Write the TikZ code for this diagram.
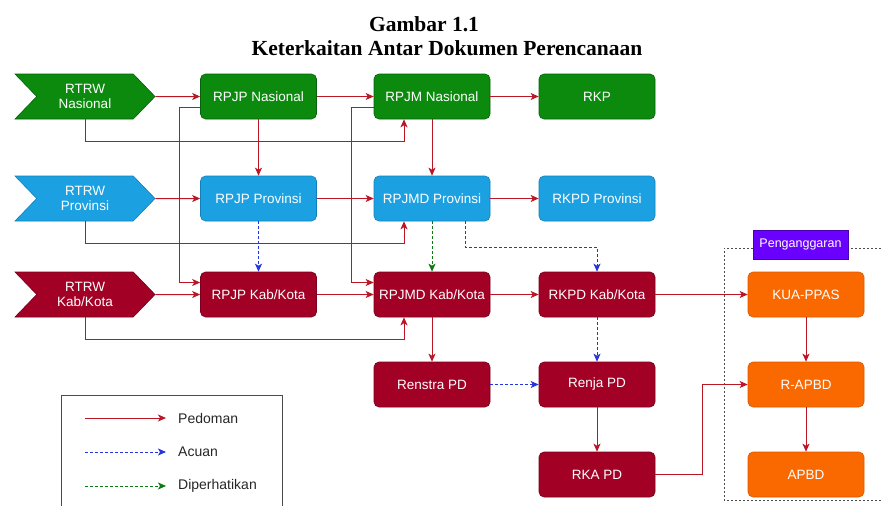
\documentclass[tikz,border=0pt]{standalone}
\usepackage{fontspec}
\setmainfont{Liberation Serif}
\setsansfont{Liberation Sans}
\usetikzlibrary{shapes.symbols,arrows.meta}

\definecolor{hijau}{HTML}{0B8A0E}
\definecolor{hijaugelap}{HTML}{06620A}
\definecolor{biru}{HTML}{1BA1E2}
\definecolor{birugelap}{HTML}{1480B8}
\definecolor{merahtua}{HTML}{A20025}
\definecolor{merahgelap}{HTML}{7A001B}
\definecolor{oranye}{HTML}{FA6800}
\definecolor{oranyegelap}{HTML}{D85A00}
\definecolor{ungu}{HTML}{6A00FF}
\definecolor{garismerah}{HTML}{BA1626}
\definecolor{garisbiru}{HTML}{2434E0}
\definecolor{garishijau}{HTML}{0C7A14}

\tikzset{
	kotak/.style={rectangle, rounded corners=5pt, minimum width=116pt,
	minimum height=45pt, inner sep=0pt, align=center, text=white,
	line width=0.6pt, font=\sffamily\fontsize{13.5}{15}\selectfont},
	rtrw/.style={kotak, signal, signal from=west, signal to=east,
	signal pointer angle=92, sharp corners, minimum width=140pt},
	nas/.style={fill=hijau, draw=hijaugelap},
	prov/.style={fill=biru, draw=birugelap},
	kab/.style={fill=merahtua, draw=merahgelap},
	angg/.style={fill=oranye, draw=oranyegelap},
	pedoman/.style={draw=garismerah, line width=1pt,
	-{Stealth[length=8pt, width=7pt, inset=2pt]}},
	acuan/.style={draw=garisbiru, line width=1pt, dash pattern=on 3pt off 2pt,
	-{Stealth[length=8pt, width=7pt, inset=2pt]}},
	diperhatikan/.style={acuan, draw=garishijau},
	legenda/.style={anchor=west, inner sep=0pt, text=black!85,
	font=\sffamily\fontsize{14}{16}\selectfont}
}

\begin{document}
\begin{tikzpicture}[x=1pt, y=-1pt]
	\useasboundingbox (0,0) rectangle (881,506);
	% Judul
	\node[anchor=base] (judul1) at (424,31)
	{\fontsize{21.5}{24}\selectfont\bfseries Gambar 1.1};
	\node[anchor=base] (judul2) at (447,55)
	{\fontsize{21.5}{24}\selectfont\bfseries Keterkaitan Antar Dokumen Perencanaan};

	% Bingkai penganggaran
	\draw[black!70, line width=1pt, dash pattern=on 2pt off 2pt]
	(881,248) -- (724,248) -- (724,500) -- (881,500);
	\node[kotak, rounded corners=0pt, fill=ungu, draw=ungu!70!black,
	minimum width=95pt, minimum height=29pt,
	font=\sffamily\fontsize{12.5}{14}\selectfont] (penganggaran) at (800.5,244.5)
	{Penganggaran};

	% Nasional
	\node[rtrw, nas] (rtrwnas) at (85,96.5) {RTRW\\Nasional};
	\node[kotak, nas] (rpjpnas) at (258.5,96.5) {RPJP Nasional};
	\node[kotak, nas] (rpjmnas) at (432,96.5) {RPJM Nasional};
	\node[kotak, nas] (rkp) at (597,96.5) {RKP};

	% Provinsi
	\node[rtrw, prov] (rtrwprov) at (85,198.5) {RTRW\\Provinsi};
	\node[kotak, prov] (rpjpprov) at (258.5,198.5) {RPJP Provinsi};
	\node[kotak, prov] (rpjmdprov) at (432,198.5) {RPJMD Provinsi};
	\node[kotak, prov] (rkpdprov) at (597,198.5) {RKPD Provinsi};

	% Kab/Kota
	\node[rtrw, kab] (rtrwkab) at (85,294.5) {RTRW\\Kab/Kota};
	\node[kotak, kab] (rpjpkab) at (258.5,294.5) {RPJP Kab/Kota};
	\node[kotak, kab] (rpjmdkab) at (432,294.5) {RPJMD Kab/Kota};
	\node[kotak, kab] (rkpdkab) at (597,294.5) {RKPD Kab/Kota};
	\node[kotak, kab] (renstra) at (432,384.5) {Renstra PD};
	\node[kotak, kab] (renja) at (597,384.5) {Renja PD};
	\node[kotak, kab] (rkapd) at (597,474.5) {RKA PD};

	% Anggaran
	\node[kotak, angg] (kuappas) at (806,294.5) {KUA-PPAS};
	\node[kotak, angg] (rapbd) at (806,384.5) {R-APBD};
	\node[kotak, angg] (apbd) at (806,474.5) {APBD};

	% Pedoman mendatar dan menurun
	\foreach \a/\b in {rtrwnas/rpjpnas, rpjpnas/rpjmnas, rpjmnas/rkp,
		rtrwprov/rpjpprov, rpjpprov/rpjmdprov, rpjmdprov/rkpdprov,
		rtrwkab/rpjpkab, rpjpkab/rpjmdkab, rpjmdkab/rkpdkab, rkpdkab/kuappas,
		rpjpnas/rpjpprov, rpjmnas/rpjmdprov, rpjmdkab/renstra, renja/rkapd,
		kuappas/rapbd, rapbd/apbd}
		\draw[pedoman] (\a) -- (\b);
	% RTRW ke RPJM(D)
	\foreach \a/\b/\y in {rtrwnas/rpjmnas/141, rtrwprov/rpjmdprov/243,
		rtrwkab/rpjmdkab/339}
		\draw[pedoman] (\a.south) -- (\a.south |- 0,\y)
		-| ([xshift=-28pt]\b.south);
	\draw[pedoman] ([yshift=-11pt]rpjpnas.west) -- ++(-21,0)
	|- ([yshift=12pt]rpjpkab.west);
	\draw[pedoman] ([yshift=-11pt]rpjmnas.west) -- ++(-22,0)
	|- ([yshift=12pt]rpjmdkab.west);
	\draw[pedoman] (rkapd.east) -- ++(47,0) |- (rapbd.west);

	% Acuan dan diperhatikan
	\draw[acuan] (rpjpprov) -- (rpjpkab);
	\draw[acuan] (rkpdkab) -- (renja);
	\draw[acuan] (renstra) -- (renja);
	\draw[acuan] ([xshift=33pt]rpjmdprov.south) -- ++(0,26) -| (rkpdkab.north);
	\draw[diperhatikan] (rpjmdprov) -- (rpjmdkab);

	% Legenda
	\draw[black!70, line width=1pt] (61,506) -- (61,395) -- (282,395)
	-- (282,506);
	\foreach \nm/\gaya/\teks/\y in {lgped/pedoman/Pedoman/418,
		lgacu/acuan/Acuan/452, lgdip/diperhatikan/Diperhatikan/486}
	{
		\coordinate (\nm-a) at (85,\y);
		\node[legenda] (\nm) at (178,\y) {\teks};
		\draw[\gaya] (\nm-a) -- ([xshift=-12pt]\nm.west);
	}
\end{tikzpicture}
\end{document}
